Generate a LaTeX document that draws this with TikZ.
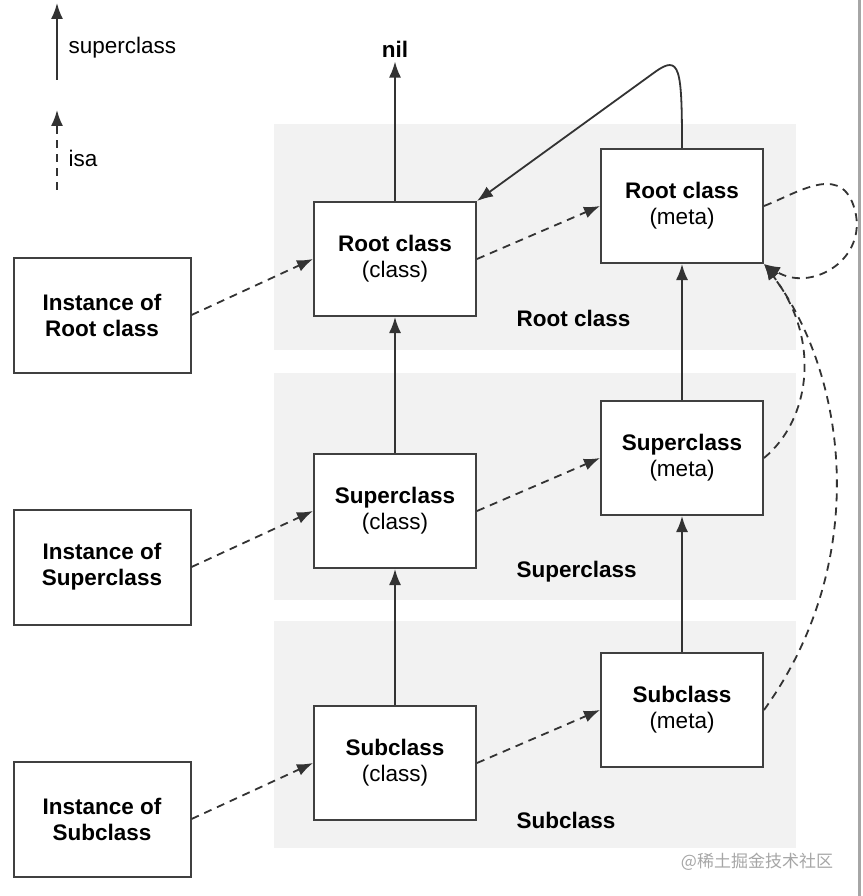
\documentclass[tikz,border=0pt]{standalone}
\usepackage{fontspec}
\setsansfont{Liberation Sans}
\newfontfamily\cjkfont{Noto Sans CJK SC}
\usepackage{tikz}
\usetikzlibrary{arrows.meta,positioning}

\begin{document}
\begin{tikzpicture}[
		x=1pt, y=-1pt,
		font=\sffamily\fontsize{22.5}{26}\selectfont,
		box/.style={draw=black!75, line width=2pt, fill=white, align=center, inner sep=0pt,
			minimum width=162pt, minimum height=114pt},
		instbox/.style={box, minimum width=177pt, minimum height=115pt, font=\sffamily\bfseries\fontsize{22.5}{26}\selectfont},
		bandlabel/.style={anchor=base west, font=\sffamily\bfseries\fontsize{22.5}{26}\selectfont},
		superarrow/.style={draw=black!80, line width=1.8pt, -{Latex[length=16pt,width=12pt]}},
		isaarrow/.style={superarrow, dash pattern=on 8pt off 6pt}
		]
		\useasboundingbox (0,0) rectangle (862,896);
		
		% Draw bands
		\fill [draw=none, fill=gray!10] (274,124) rectangle (796,350);
		\fill [draw=none, fill=gray!10] (274,373) rectangle (796,600);
		\fill [draw=none, fill=gray!10] (274,621) rectangle (796,848);
		\draw [gray!70, line width=3pt] (859,0) -- (859,896);
		
		\node[bandlabel] (rootband) at (513,326) {Root class};
		\node[bandlabel] (superband) at (513,577) {Superclass};
		\node[bandlabel] (subband) at (513,828) {Subclass};
		
		% Legend
		\draw
		(57,80) coordinate (supfrom)
		(57,3) coordinate (supto)
		(57,190) coordinate (isafrom)
		(57,110) coordinate (isato);
		\draw[superarrow] (supfrom) -- (supto);
		\draw[isaarrow] (isafrom) -- (isato);
		\node[anchor=west] (suplabel) at (65,48) {superclass};
		\node[anchor=west] (isalabel) at (65,158) {isa};
		
		% Boxes
		\node[instbox] (ri) at (102,315) {Instance of\\Root class};
		\node[instbox] (si) at (102,567) {Instance of\\Superclass};
		\node[instbox] (bi) at (102,819) {Instance of\\Subclass};
		
		\node[box] (rc) at (395,259) {\textbf{Root class}\\(class)};
		\node[box] (sc) at (395,511) {\textbf{Superclass}\\(class)};
		\node[box] (bc) at (395,763) {\textbf{Subclass}\\(class)};
		
		\node[box] (rm) at (682,206) {\textbf{Root class}\\(meta)};
		\node[box] (sm) at (682,458) {\textbf{Superclass}\\(meta)};
		\node[box] (bm) at (682,710) {\textbf{Subclass}\\(meta)};
		
		\node[font=\sffamily\bfseries\fontsize{22.5}{26}\selectfont, anchor=base] (nil) at (395,58) {nil};
		
		% superclass pointers
		\draw[superarrow] (rc) -- (nil);
		\draw[superarrow] (sc) -- (rc);
		\draw[superarrow] (bc) -- (sc);
		\draw[superarrow] (sm) -- (rm);
		\draw[superarrow] (bm) -- (sm);
		\draw[superarrow] (rm.north) .. controls (682,68) and (680,54) .. (655,72) -- (rc.north east);
		
		% isa pointers
		\draw[isaarrow] (ri.east) -- (rc.west);
		\draw[isaarrow] (si.east) -- (sc.west);
		\draw[isaarrow] (bi.east) -- (bc.west);
		\draw[isaarrow] (rc.east) -- (rm.west);
		\draw[isaarrow] (sc.east) -- (sm.west);
		\draw[isaarrow] (bc.east) -- (bm.west);
		\draw[isaarrow] (rm.east) .. controls (800,192) and (845,160) .. (856,215)
		.. controls (864,262) and (810,292) .. (rm.south east);
		\draw[isaarrow] (sm.east) .. controls (810,420) and (822,340) .. (rm.south east);
		\draw[isaarrow] (bm.east) .. controls (872,560) and (847,375) .. (rm.south east);
		
		% watermark
		\node[text=gray!70, font=\cjkfont\fontsize{17}{20}\selectfont] (mark) at (757,862) {@稀土掘金技术社区};
		\end{tikzpicture}
\end{document}
